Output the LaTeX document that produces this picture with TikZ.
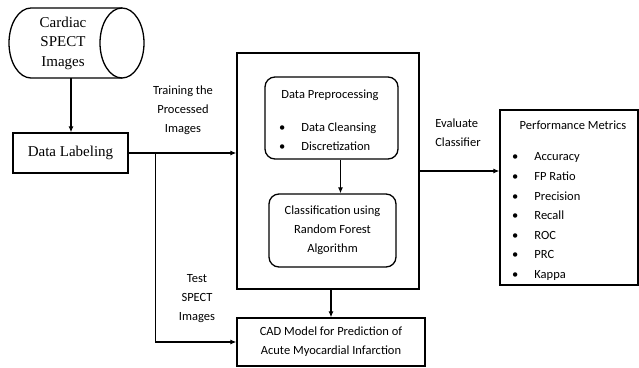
\documentclass[tikz,border=0pt]{standalone}
\usepackage{fontspec}
\setmainfont{Liberation Serif}
\newfontfamily\calibri{Carlito}
\usetikzlibrary{arrows.meta}

\begin{document}
\begin{tikzpicture}[x=1pt, y=-1pt,
    box/.style={draw, line width=1.3pt},
    rbox/.style={draw, line width=1.3pt, rounded corners=10pt},
    arr/.style={line width=1.1pt, -{Latex[length=6pt, width=5pt]}},
    lbl/.style={font=\calibri\fontsize{12.5}{19}\selectfont, align=center},
    serif/.style={font=\fontsize{15}{19.5}\selectfont, align=center}]
    \useasboundingbox (0,0) rectangle (639,367);

    % Input and labeling
    \draw[line width=1.3pt] (122,8) -- (31,8) arc[start angle=90, end angle=270, x radius=22pt, y radius=35pt] -- (122,78);
    \draw[line width=1.3pt] (122,43) ellipse[x radius=22pt, y radius=35pt];
    \node[serif] (cyl) at (63,43) {Cardiac\\SPECT\\Images};
    \coordinate (cylbase) at (71,78);
    \node[box, serif, minimum width=115pt, minimum height=40pt] (label) at (70.5,153) {Data Labeling};
    \draw[arr] (cylbase) -- (cylbase |- label.north);

    % Training block
    \node[box, minimum width=182pt, minimum height=236pt] (model) at (328,171) {};
    \node[rbox, minimum width=133pt, minimum height=82pt] (prep) at (331.5,118) {};
    \node[lbl] (preptitle) at (330,95) {Data Preprocessing};
    \node[lbl, anchor=north west, inner sep=0pt] (preplist) at (279,118)
        {\begin{tabular}{@{}l@{\hspace{16pt}}l@{}}\textbullet & Data Cleansing\\ \textbullet & Discretization\end{tabular}};
    \node[rbox, lbl, minimum width=127pt, minimum height=73pt] (cls) at (332.5,230.5)
        {Classification using\\Random Forest\\Algorithm};
    \draw[arr] ([xshift=9pt]prep.south) -- ([xshift=9pt]prep.south |- cls.north);

    % Outputs
    \node[box, lbl, minimum width=188pt, minimum height=48pt] (cad) at (331,342)
        {CAD Model for Prediction of\\Acute Myocardial Infarction};
    \node[box, minimum width=138pt, minimum height=175pt] (perf) at (569,197.5) {};
    \node[lbl] (perftitle) at (573,125) {Performance Metrics};
    \node[lbl, anchor=north west, inner sep=0pt, font=\calibri\fontsize{12.5}{19.6}\selectfont] (perflist) at (512,147)
        {\begin{tabular}{@{}l@{\hspace{16pt}}l@{}}\textbullet & Accuracy\\ \textbullet & FP Ratio\\ \textbullet & Precision\\
         \textbullet & Recall\\ \textbullet & ROC\\ \textbullet & PRC\\ \textbullet & Kappa\end{tabular}};

    % Connections
    \coordinate (split) at ([xshift=27pt]label.east);
    \draw[arr] (label.east) -- (label.east -| model.west);
    \draw[arr] (split) |- (cad.west);
    \draw[arr] (cad.north |- model.south) -- (cad.north);
    \draw[arr] (model.east) -- (model.east -| perf.west);

    \node[lbl] (train) at (183,110) {Training the\\Processed\\Images};
    \node[lbl] (test) at (197,299) {Test\\SPECT\\Images};
    \node[lbl, align=left] (eval) at (458,133) {Evaluate\\Classifier};
\end{tikzpicture}
\end{document}
